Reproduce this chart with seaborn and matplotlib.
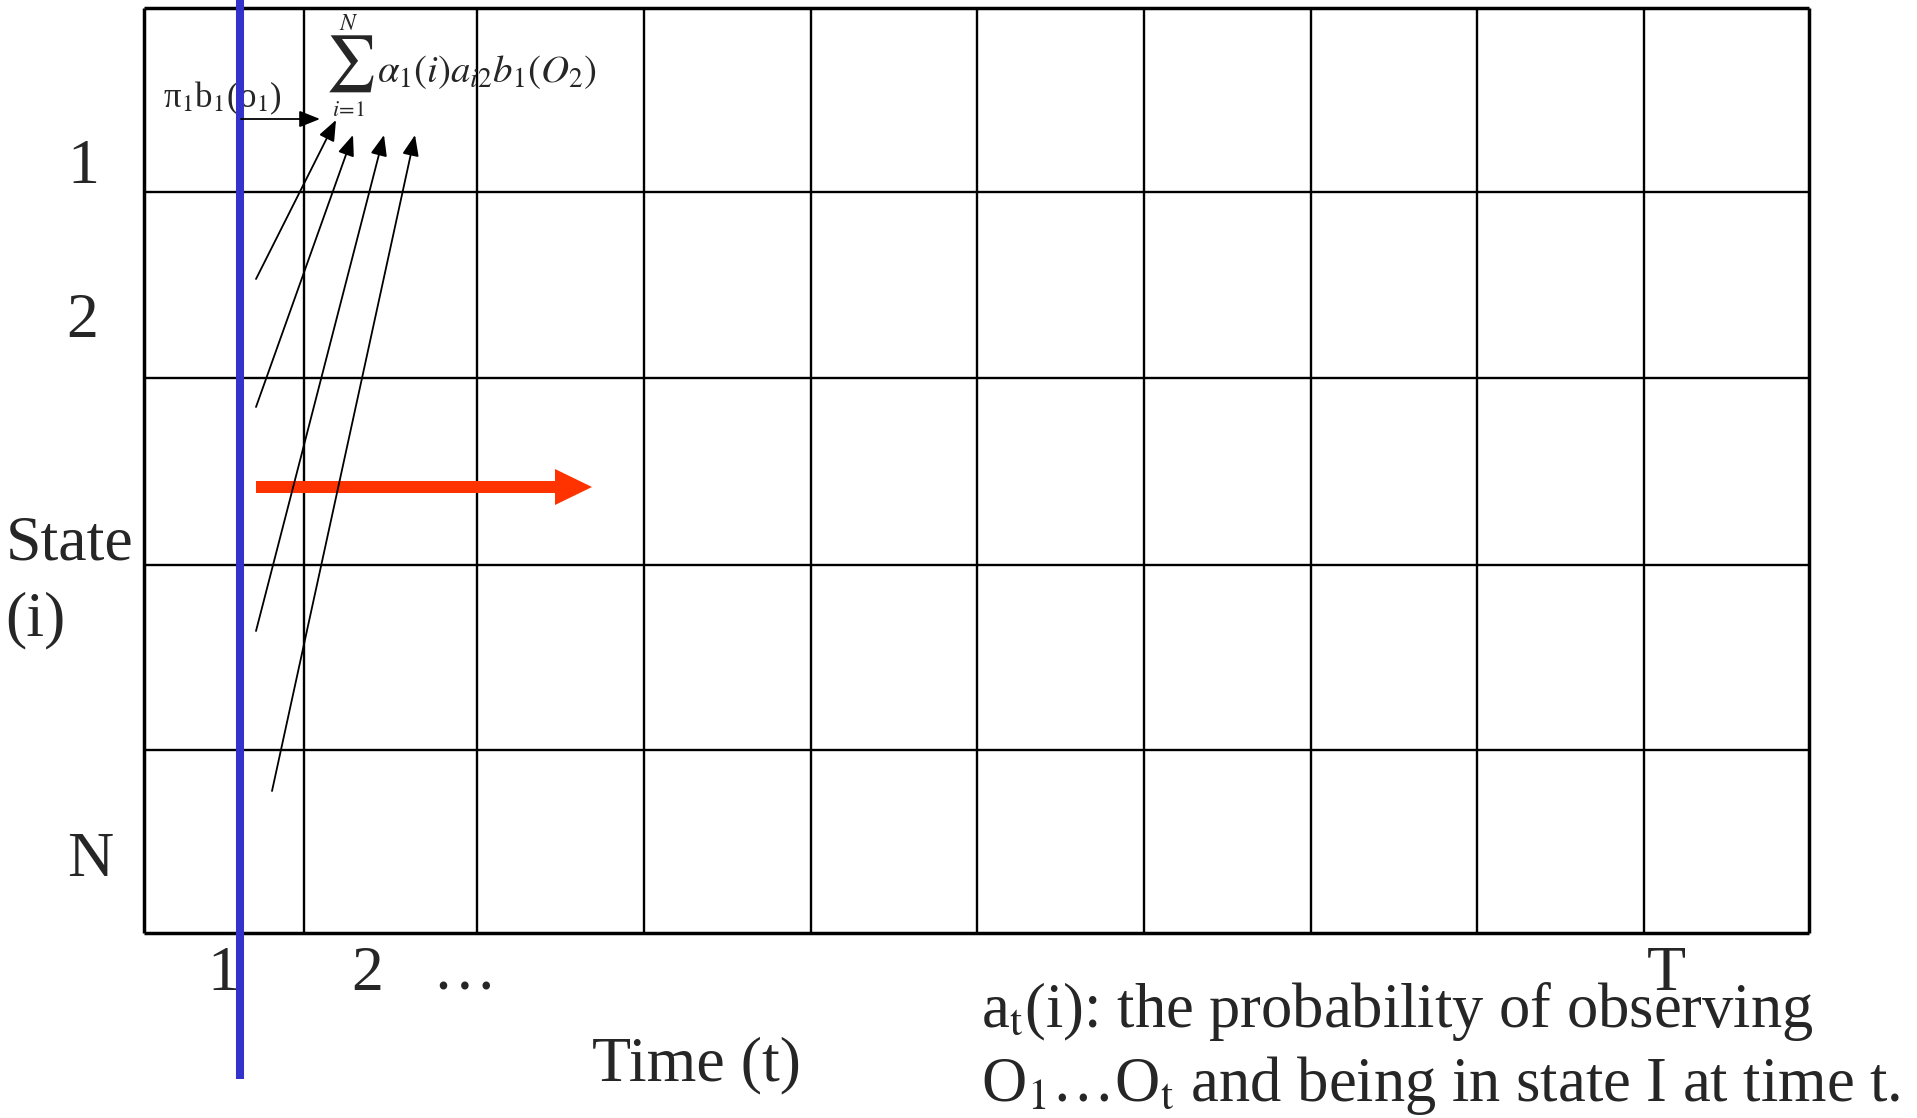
import matplotlib
matplotlib.use("Agg")
import matplotlib.pyplot as plt
import seaborn as sns

# trellis labels
state_labels = ["1", "2", "N"]
time_labels = ["1", "2", "…", "T"]
n_states = 5
n_times = 10

# layout of the trellis (picture pixels, origin top-left)
col_edges = [144, 304, 477, 644, 811, 977, 1144, 1311, 1477, 1644, 1809]
row_edges = [8, 192, 378, 565, 750, 933]
state_label_x = [83, 82, 90]
state_label_y = [183, 337, 876]
time_label_x = [223, 367, 464, 1666]

# arrows summing into alpha_2(1)
arrow_tails = [(256, 279), (256, 407), (256, 631), (272, 791)]
arrow_heads = [(336, 120), (353, 135), (384, 135), (415, 135)]

W, H = 1917, 1118
sns.set_theme(style="white")
plt.rcParams["font.family"] = ["Liberation Serif", "DejaVu Serif"]

fig = plt.figure(figsize=(W / 100, H / 100), dpi=100)
ax = fig.add_axes([0, 0, 1, 1])
ax.set_xlim(0, W)
ax.set_ylim(H, 0)
ax.axis("off")

# grid: inner lines thin, border thicker
ax.vlines(col_edges[1:-1], row_edges[0], row_edges[-1], color="black", lw=1.7, zorder=2)
ax.hlines(row_edges[1:-1], col_edges[0], col_edges[-1], color="black", lw=1.7, zorder=2)
ax.vlines([col_edges[0], col_edges[-1]], row_edges[0], row_edges[-1], color="black", lw=2.5, zorder=2)
ax.hlines([row_edges[0], row_edges[-1]], col_edges[0], col_edges[-1], color="black", lw=2.5, zorder=2)

big = 46
for lab, x, y in zip(state_labels, state_label_x, state_label_y):
    ax.text(x, y, lab, fontsize=big, ha="center", va="baseline")
ax.text(6, 559, "State", fontsize=big, ha="left", va="baseline")
ax.text(5, 635, "(i)", fontsize=big, ha="left", va="baseline")
for lab, x in zip(time_labels, time_label_x):
    ax.text(x, 990, lab, fontsize=big, ha="center", va="baseline")
ax.text(696, 1080, "Time (t)", fontsize=big, ha="center", va="baseline")

ax.text(981, 1027, r"a$_\mathrm{t}$(i): the probability of observing",
        fontsize=45, ha="left", va="baseline", math_fontfamily="stix")
ax.text(981, 1101, r"O$_\mathrm{1}$…O$_\mathrm{t}$ and being in state I at time t.",
        fontsize=45, ha="left", va="baseline", math_fontfamily="stix")

ax.text(163, 107, r"π$_\mathrm{1}$b$_\mathrm{1}$(o$_\mathrm{1}$)",
        fontsize=25, ha="left", va="baseline", math_fontfamily="stix", zorder=3)

# forward recursion term, sum sign drawn large with its limits
ax.text(350, 64, r"$\sum$", fontsize=40, ha="center", va="center",
        math_fontfamily="stix", zorder=3)
ax.text(349, 30, r"$N$", fontsize=17, ha="center", va="baseline",
        math_fontfamily="stix", zorder=3)
ax.text(349, 116, r"$i\!=\!1$", fontsize=16, ha="center", va="baseline",
        math_fontfamily="stix", zorder=3)
ax.text(377, 82, r"$\alpha_1(i)a_{i2}b_1(O_2)$",
        fontsize=28, ha="left", va="baseline", math_fontfamily="stix", zorder=3)

# time 1 column marker
ax.vlines(240, 0, 1079, color="#3333CC", lw=5.8, zorder=4)

# forward step arrow
ax.arrow(256, 487, 592 - 256, 0, width=12, head_width=36, head_length=37,
         length_includes_head=True, fc="#FF3300", ec="none", zorder=5)

aprops = dict(arrowstyle="-|>,head_length=0.45,head_width=0.18", lw=1.3,
              color="black", shrinkA=0, shrinkB=0, mutation_scale=28)
ax.annotate("", xy=(320, 119), xytext=(241, 119), arrowprops=aprops, zorder=6)
for tail, head in zip(arrow_tails, arrow_heads):
    ax.annotate("", xy=head, xytext=tail, arrowprops=aprops, zorder=6)

fig.savefig("out.png", dpi=100, facecolor="white")
